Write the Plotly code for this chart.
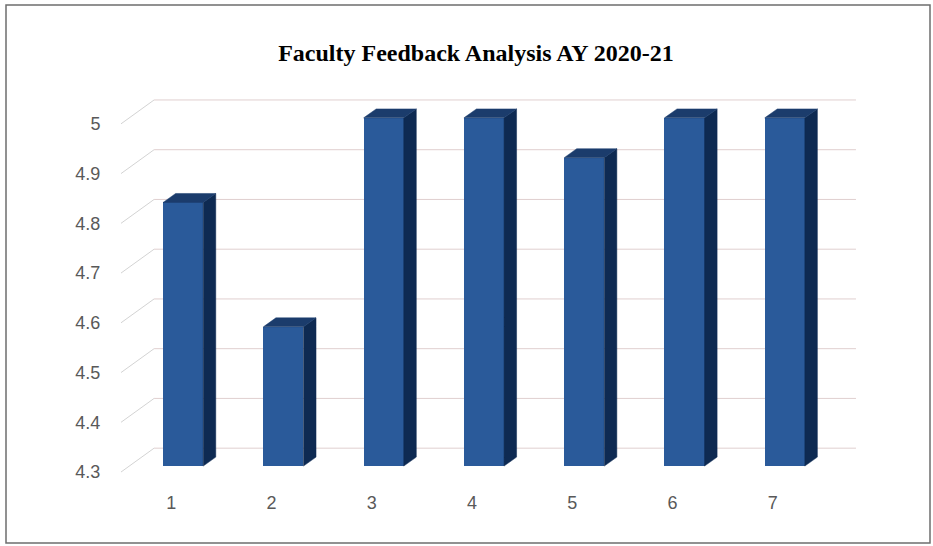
import plotly.graph_objects as go

# feedback score per question
questions = [1, 2, 3, 4, 5, 6, 7]
scores = [4.83, 4.58, 5.0, 5.0, 4.92, 5.0, 5.0]
y_ticks = [4.3, 4.4, 4.5, 4.6, 4.7, 4.8, 4.9, 5.0]

title = "Faculty Feedback Analysis AY 2020-21"

# fake 3D look: bar plane sits a little behind the label plane,
# the back wall further behind
bar_dx, bar_dy = 0.12, 0.012       # shift of bar plane
depth_dx, depth_dy = 0.125, 0.018  # bar depth
wall_dx, wall_dy = 0.33, 0.048     # shift of back wall
half_w = 0.2
floor = 4.3

front_col = "#2A5A9A"
side_col = "#0E2A52"
top_col = "#1B3C6C"

fig = go.Figure()

# back wall grid + diagonal side-wall lines
shapes = []
for t in y_ticks:
    shapes.append(dict(type="line", xref="x", yref="y", layer="below",
                       x0=0.5, y0=t, x1=0.5 + wall_dx, y1=t + wall_dy,
                       line=dict(color="#D3D3D3", width=1)))
    shapes.append(dict(type="line", xref="x", yref="y", layer="below",
                       x0=0.5 + wall_dx, y0=t + wall_dy, x1=7.5 + wall_dx, y1=t + wall_dy,
                       line=dict(color="#E0CFCF", width=1)))

# front faces
fig.add_trace(go.Bar(
    x=[q + bar_dx for q in questions],
    y=[s - floor for s in scores],
    base=floor + bar_dy,
    width=2 * half_w,
    marker=dict(color=front_col, line=dict(width=0)),
    showlegend=False,
    hoverinfo="skip",
))

# side and top faces
side_x, side_y, top_x, top_y = [], [], [], []
for q, s in zip(questions, scores):
    xl = q + bar_dx - half_w
    xr = q + bar_dx + half_w
    b = floor + bar_dy
    tp = s + bar_dy
    side_x += [xr, xr, xr + depth_dx, xr + depth_dx, xr, None]
    side_y += [b, tp, tp + depth_dy, b + depth_dy, b, None]
    top_x += [xl, xr, xr + depth_dx, xl + depth_dx, xl, None]
    top_y += [tp, tp, tp + depth_dy, tp + depth_dy, tp, None]

fig.add_trace(go.Scatter(x=side_x, y=side_y, fill="toself", mode="lines",
                         fillcolor=side_col, line=dict(color=side_col, width=0.5),
                         showlegend=False, hoverinfo="skip"))
fig.add_trace(go.Scatter(x=top_x, y=top_y, fill="toself", mode="lines",
                         fillcolor=top_col, line=dict(color=top_col, width=0.5),
                         showlegend=False, hoverinfo="skip"))

# outer frame of the chart, in paper units
W, H = 933, 546
ml, mr, mt, mb = 121, 70, 93, 66
pw, ph = W - ml - mr, H - mt - mb
def px_x(p):
    return (p - ml) / pw
def px_y(p):
    return (H - mb - p) / ph

shapes.append(dict(type="rect", xref="paper", yref="paper",
                   x0=px_x(6), x1=px_x(930), y0=px_y(543), y1=px_y(5),
                   line=dict(color="#6E6E6E", width=1.5)))

fig.update_layout(
    width=W, height=H,
    margin=dict(l=ml, r=mr, t=mt, b=mb),
    paper_bgcolor="white",
    plot_bgcolor="white",
    title=dict(text="<b>" + title + "</b>", x=476 / W, xref="container",
               y=1 - 53 / H, yref="container",
               xanchor="center", yanchor="middle",
               font=dict(family="Liberation Serif", size=24, color="black")),
    shapes=shapes,
    bargap=0,
)
fig.update_xaxes(range=[0.5, 7.9], tickvals=questions, ticktext=[str(q) for q in questions],
                 showgrid=False, zeroline=False, showline=False,
                 ticks="outside", ticklen=6, tickcolor="rgba(0,0,0,0)",
                 tickfont=dict(family="Liberation Sans", size=18, color="#595959"))
fig.update_yaxes(range=[4.284, 5.062], tickvals=y_ticks,
                 ticktext=[f"{t:g}" for t in y_ticks],
                 showgrid=False, zeroline=False, showline=False,
                 ticks="outside", ticklen=16, tickcolor="rgba(0,0,0,0)",
                 tickfont=dict(family="Liberation Sans", size=18, color="#595959"))

# drop the default body margin so the figure sits at the page corner
fig.write_html("out.html", config={"displayModeBar": False},
               post_script="document.body.style.margin='0';")
